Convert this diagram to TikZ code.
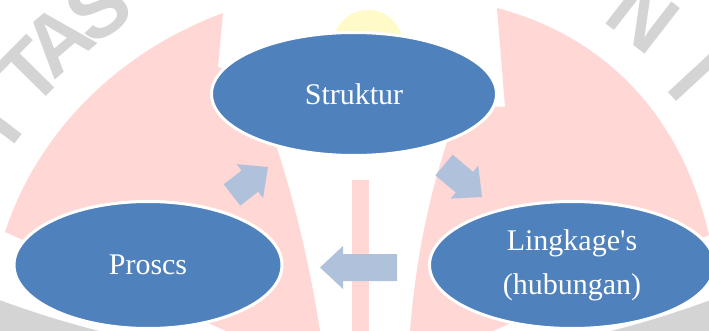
\documentclass[tikz,border=0pt]{standalone}
\usepackage{fontspec}
\setmainfont{Liberation Serif}
\newfontfamily\wmfont{Liberation Sans}
\usetikzlibrary{shapes.geometric,calc}
\definecolor{ellblue}{RGB}{79,129,189}
\definecolor{arrblue}{RGB}{176,193,220}
\definecolor{wmpink}{RGB}{255,215,213}
\definecolor{wmgray}{RGB}{212,212,212}
\definecolor{wmyellow}{RGB}{255,250,200}
\newcommand{\blockarrow}[3]{% name, tail, tip
  \coordinate (#1b) at ($(#3)!23pt!(#2)$);
  \fill[arrowshape] ($(#2)!13.5pt!90:(#3)$) -- ($(#1b)!13.5pt!90:(#3)$) --
    ($(#1b)!21.5pt!90:(#3)$) -- (#3) -- ($(#1b)!21.5pt!-90:(#3)$) --
    ($(#1b)!13.5pt!-90:(#3)$) -- ($(#2)!13.5pt!-90:(#3)$) -- cycle;
}
\begin{document}
\begin{tikzpicture}[x=1pt,y=-1pt,
  bubble/.style={ellipse, draw=white, line width=3pt, fill=ellblue, text=white,
    inner sep=0pt, align=center, font=\fontsize{30}{44}\selectfont},
  arrowshape/.style={fill=arrblue},
  wmletter/.style={text=wmgray, inner sep=0pt, font=\wmfont\bfseries\fontsize{84}{84}\selectfont},
]
\useasboundingbox (0,0) rectangle (709,331);
% watermark background
\begin{scope}
  \clip (0,0) rectangle (709,331);
  \fill[wmgray, even odd rule] (-10,-10) rectangle (720,340) (355,-668) circle (1031pt);
  \fill[wmpink] (5,232) .. controls (35,140) and (110,55) .. (223,13) -- (218,67)
    -- (260,80) -- (277,148) .. controls (300,220) and (312,280) .. (320,331)
    -- (226,331) -- cycle;
  \fill[wmpink] (709,235) .. controls (680,110) and (600,35) .. (497,8) -- (505,107)
    -- (460,105) -- (447,142) .. controls (425,210) and (415,270) .. (410,331)
    -- (493,331) -- cycle;
  \fill[wmpink] (352,180) rectangle (369,331);
  \fill[wmyellow] (368,45) circle (35pt);
  \node[wmletter, rotate=52.7] (wi1) at (-4,122) {I};
  \node[wmletter, rotate=45.4] (wt) at (30,72) {T};
  \node[wmletter, rotate=40.5] (wa) at (58,40) {A};
  \node[wmletter, rotate=34.5] (ws) at (98,8) {S};
  \node[wmletter, rotate=-37.8] (wn) at (643,16) {N};
  \node[wmletter, rotate=-47.2] (wi2) at (694,77) {I};
\end{scope}
% arrows
\coordinate (a1t) at (232,195); \coordinate (a1p) at (268,167);
\coordinate (a2t) at (444,165); \coordinate (a2p) at (482,197);
\coordinate (a3t) at (397,267.5); \coordinate (a3p) at (320,267.5);
\blockarrow{a1}{a1t}{a1p}
\blockarrow{a2}{a2t}{a2p}
\blockarrow{a3}{a3t}{a3p}
% ellipses
\node[bubble, minimum width=285pt, minimum height=123pt] (struktur) at (354,94) {Struktur};
\node[bubble, minimum width=268pt, minimum height=127pt] (proses) at (148,265) {Proscs};
\node[bubble, minimum width=285pt, minimum height=127pt] (linkage) at (572,265)
  {Lingkage\textquotesingle s\\(hubungan)};
\end{tikzpicture}
\end{document}
